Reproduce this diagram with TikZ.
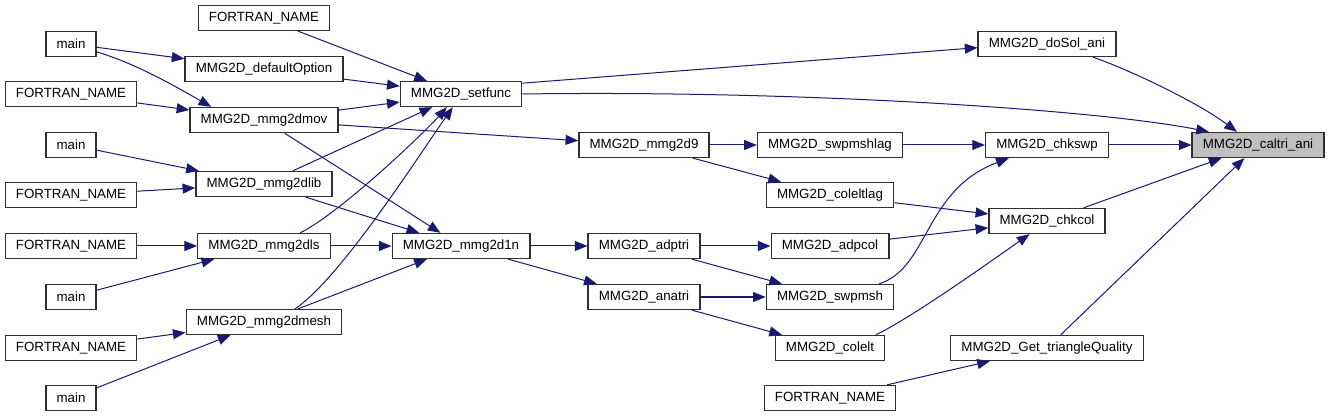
\documentclass[tikz,border=0pt]{standalone}
\usepackage{fontspec}
\newfontfamily\dxfont{Liberation Sans}
\definecolor{dxedge}{RGB}{25,25,112}
\definecolor{dxframe}{RGB}{48,48,48}
\definecolor{dxself}{RGB}{191,191,191}
\usetikzlibrary{arrows.meta}

\begin{document}
\begin{tikzpicture}[x=0.75pt,y=-0.75pt,
    fn/.style={draw=dxframe,line width=1pt,fill=white,inner xsep=8pt,inner ysep=0pt,
      minimum height=18.75pt,font=\dxfont\fontsize{10}{12}\selectfont},
    self/.style={fn,fill=dxself},
    call/.style={draw=dxedge,line width=0.75pt,-{Triangle[length=9.5pt,width=7.5pt]}}]
  \useasboundingbox (0,0) rectangle (1329,417);
  % outer callers
  \foreach \n/\y/\txt in {mainA/44/main, fnA/94/FORTRAN\_NAME, mainB/145/main,
      fnB/195/FORTRAN\_NAME, fnC/246/FORTRAN\_NAME, mainC/297/main,
      fnD/348/FORTRAN\_NAME, mainD/398/main}
    \node[fn] (\n) at (71,\y) {\txt};
  % library entry points
  \foreach \n/\y/\txt in {fnE/18/FORTRAN\_NAME, dopt/69/MMG2D\_defaultOption,
      mov/120/MMG2D\_mmg2dmov, lib/184/MMG2D\_mmg2dlib, ls/246/MMG2D\_mmg2dls,
      mesh/322/MMG2D\_mmg2dmesh}
    \node[fn] (\n) at (264,\y) {\txt};
  \node[fn] (setf) at (461,94) {MMG2D\_setfunc};
  \node[fn] (d1n) at (461,246) {MMG2D\_mmg2d1n};
  % remeshing steps
  \node[fn] (d9) at (644,145) {MMG2D\_mmg2d9};
  \node[fn] (adptri) at (644,246) {MMG2D\_adptri};
  \node[fn] (anatri) at (644,297) {MMG2D\_anatri};
  \foreach \n/\y/\txt in {swplag/145/MMG2D\_swpmshlag, collag/195/MMG2D\_coleltlag,
      adpcol/246/MMG2D\_adpcol, swpmsh/297/MMG2D\_swpmsh, colelt/348/MMG2D\_colelt,
      fnF/398/FORTRAN\_NAME}
    \node[fn] (\n) at (830,\y) {\txt};
  % direct callers of the quality function
  \node[fn] (dosol) at (1047,44) {MMG2D\_doSol\_ani};
  \node[fn] (chkswp) at (1047,145) {MMG2D\_chkswp};
  \node[fn] (chkcol) at (1047,221) {MMG2D\_chkcol};
  \node[fn] (gtq) at (1047,348) {MMG2D\_Get\_triangleQuality};
  \node[self] (caltri) at (1258,145) {MMG2D\_caltri\_ani};
  % straight calls
  \foreach \a/\b in {mainA/dopt, fnA/mov, mainB/lib, fnB/lib, fnC/ls, mainC/ls,
      fnD/mesh, mainD/mesh, fnE/setf, dopt/setf, mov/setf, lib/setf,
      mov/d9, mov/d1n, lib/d1n, ls/d1n, mesh/d1n,
      d9/swplag, d9/collag, d1n/adptri, d1n/anatri,
      adptri/adpcol, adptri/swpmsh, anatri/swpmsh, anatri/colelt,
      swplag/chkswp, collag/chkcol, adpcol/chkcol, fnF/gtq,
      chkswp/caltri, chkcol/caltri, gtq/caltri}
    \draw[call] (\a) -- (\b);
  % bent calls
  \draw[call] (mainA.-17) .. controls +(40,12) and +(-35,-20) .. (mov.166);
  \draw[call] (ls.20) .. controls +(40,-20) and +(-25,28) .. (setf.223);
  \draw[call] (mesh.23) .. controls +(45,-30) and +(-35,50) .. (setf.238);
  \draw[call] (setf.10) -- (dosol.183);
  \draw[call] (setf.east) .. controls +(280,-4) and +(-110,-22) .. (caltri.165);
  \draw[call] (dosol.-16) .. controls +(35,12) and +(-40,-30) .. (caltri.148);
  \draw[call] (swpmsh.15) .. controls +(50,-16) and +(-85,32) .. (chkswp.199);
  \draw[call] (colelt.16) .. controls +(37,-18) and +(-40,28) .. (chkcol.217);
\end{tikzpicture}
\end{document}
